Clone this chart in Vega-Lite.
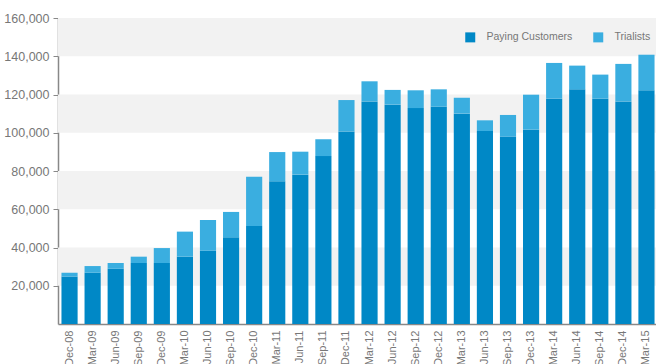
{
  "$schema": "https://vega.github.io/schema/vega-lite/v6.json",
  "autosize": {"type": "none"},
  "width": 600,
  "height": 306,
  "padding": {"left": 58, "top": 18, "right": 0, "bottom": 40},
  "background": "#ffffff",
  "config": {
    "font": "Liberation Sans",
    "view": {"stroke": null}
  },
  "datasets": {
    "bands": [
      {"lo": 20000, "hi": 40000},
      {"lo": 60000, "hi": 80000},
      {"lo": 100000, "hi": 120000},
      {"lo": 140000, "hi": 160000}
    ],
    "subs": [
      {"quarter": "Dec-08", "series": "Paying Customers", "order": 1, "value": 24800},
      {"quarter": "Dec-08", "series": "Trialists", "order": 2, "value": 2000},
      {"quarter": "Mar-09", "series": "Paying Customers", "order": 1, "value": 26800},
      {"quarter": "Mar-09", "series": "Trialists", "order": 2, "value": 3500},
      {"quarter": "Jun-09", "series": "Paying Customers", "order": 1, "value": 28900},
      {"quarter": "Jun-09", "series": "Trialists", "order": 2, "value": 3000},
      {"quarter": "Sep-09", "series": "Paying Customers", "order": 1, "value": 31900},
      {"quarter": "Sep-09", "series": "Trialists", "order": 2, "value": 3300},
      {"quarter": "Dec-09", "series": "Paying Customers", "order": 1, "value": 31900},
      {"quarter": "Dec-09", "series": "Trialists", "order": 2, "value": 7800},
      {"quarter": "Mar-10", "series": "Paying Customers", "order": 1, "value": 35200},
      {"quarter": "Mar-10", "series": "Trialists", "order": 2, "value": 13100},
      {"quarter": "Jun-10", "series": "Paying Customers", "order": 1, "value": 38300},
      {"quarter": "Jun-10", "series": "Trialists", "order": 2, "value": 16100},
      {"quarter": "Sep-10", "series": "Paying Customers", "order": 1, "value": 45300},
      {"quarter": "Sep-10", "series": "Trialists", "order": 2, "value": 13300},
      {"quarter": "Dec-10", "series": "Paying Customers", "order": 1, "value": 51200},
      {"quarter": "Dec-10", "series": "Trialists", "order": 2, "value": 25800},
      {"quarter": "Mar-11", "series": "Paying Customers", "order": 1, "value": 74600},
      {"quarter": "Mar-11", "series": "Trialists", "order": 2, "value": 15300},
      {"quarter": "Jun-11", "series": "Paying Customers", "order": 1, "value": 78100},
      {"quarter": "Jun-11", "series": "Trialists", "order": 2, "value": 12000},
      {"quarter": "Sep-11", "series": "Paying Customers", "order": 1, "value": 87800},
      {"quarter": "Sep-11", "series": "Trialists", "order": 2, "value": 8800},
      {"quarter": "Dec-11", "series": "Paying Customers", "order": 1, "value": 100700},
      {"quarter": "Dec-11", "series": "Trialists", "order": 2, "value": 16400},
      {"quarter": "Mar-12", "series": "Paying Customers", "order": 1, "value": 116400},
      {"quarter": "Mar-12", "series": "Trialists", "order": 2, "value": 10500},
      {"quarter": "Jun-12", "series": "Paying Customers", "order": 1, "value": 114700},
      {"quarter": "Jun-12", "series": "Trialists", "order": 2, "value": 7700},
      {"quarter": "Sep-12", "series": "Paying Customers", "order": 1, "value": 112900},
      {"quarter": "Sep-12", "series": "Trialists", "order": 2, "value": 9300},
      {"quarter": "Dec-12", "series": "Paying Customers", "order": 1, "value": 113600},
      {"quarter": "Dec-12", "series": "Trialists", "order": 2, "value": 9100},
      {"quarter": "Mar-13", "series": "Paying Customers", "order": 1, "value": 110000},
      {"quarter": "Mar-13", "series": "Trialists", "order": 2, "value": 8300},
      {"quarter": "Jun-13", "series": "Paying Customers", "order": 1, "value": 100900},
      {"quarter": "Jun-13", "series": "Trialists", "order": 2, "value": 5600},
      {"quarter": "Sep-13", "series": "Paying Customers", "order": 1, "value": 98000},
      {"quarter": "Sep-13", "series": "Trialists", "order": 2, "value": 11300},
      {"quarter": "Dec-13", "series": "Paying Customers", "order": 1, "value": 101600},
      {"quarter": "Dec-13", "series": "Trialists", "order": 2, "value": 18300},
      {"quarter": "Mar-14", "series": "Paying Customers", "order": 1, "value": 117800},
      {"quarter": "Mar-14", "series": "Trialists", "order": 2, "value": 18700},
      {"quarter": "Jun-14", "series": "Paying Customers", "order": 1, "value": 122700},
      {"quarter": "Jun-14", "series": "Trialists", "order": 2, "value": 12400},
      {"quarter": "Sep-14", "series": "Paying Customers", "order": 1, "value": 117800},
      {"quarter": "Sep-14", "series": "Trialists", "order": 2, "value": 12600},
      {"quarter": "Dec-14", "series": "Paying Customers", "order": 1, "value": 116400},
      {"quarter": "Dec-14", "series": "Trialists", "order": 2, "value": 19600},
      {"quarter": "Mar-15", "series": "Paying Customers", "order": 1, "value": 122200},
      {"quarter": "Mar-15", "series": "Trialists", "order": 2, "value": 18600}
    ]
  },
  "layer": [
    {
      "data": {"name": "bands"},
      "mark": {"type": "rect", "color": "#f2f2f2"},
      "encoding": {
        "x": {"value": 0},
        "x2": {"value": "width"},
        "y": {"field": "lo", "type": "quantitative"},
        "y2": {"field": "hi"}
      }
    },
    {
      "data": {"name": "subs"},
      "mark": {"type": "bar"},
      "encoding": {
        "x": {
          "field": "quarter",
          "type": "ordinal",
          "sort": null,
          "scale": {"paddingInner": 0.3, "paddingOuter": 0.15},
          "axis": {
            "title": null,
            "labelAngle": -90,
            "labelAlign": "right",
            "labelBaseline": "middle",
            "labelFontSize": 11,
            "labelColor": "#777777",
            "labelPadding": 6,
            "ticks": false,
            "domainColor": "#888888",
            "domainWidth": 1.5
          }
        },
        "y": {
          "field": "value",
          "type": "quantitative",
          "stack": "zero",
          "scale": {"domain": [0, 160000], "nice": false},
          "axis": {
            "title": null,
            "values": [20000, 40000, 60000, 80000, 100000, 120000, 140000, 160000],
            "format": ",d",
            "grid": false,
            "labelFontSize": 12.5,
            "labelColor": "#777777",
            "labelPadding": 4,
            "tickSize": 5,
            "tickColor": "#888888",
            "domainColor": "#888888",
            "domainWidth": 1.5
          }
        },
        "order": {"field": "order", "type": "quantitative"},
        "color": {
          "field": "series",
          "type": "nominal",
          "scale": {"domain": ["Paying Customers", "Trialists"], "range": ["#0088c6", "#3aaee0"]},
          "legend": {
            "title": null,
            "orient": "none",
            "legendX": 407,
            "legendY": 14,
            "direction": "horizontal",
            "symbolType": "square",
            "symbolSize": 100,
            "symbolStrokeWidth": 0,
            "labelFontSize": 10.5,
            "labelColor": "#777777",
            "labelOffset": 11,
            "columnPadding": 20,
            "padding": 0
          }
        }
      }
    }
  ]
}
